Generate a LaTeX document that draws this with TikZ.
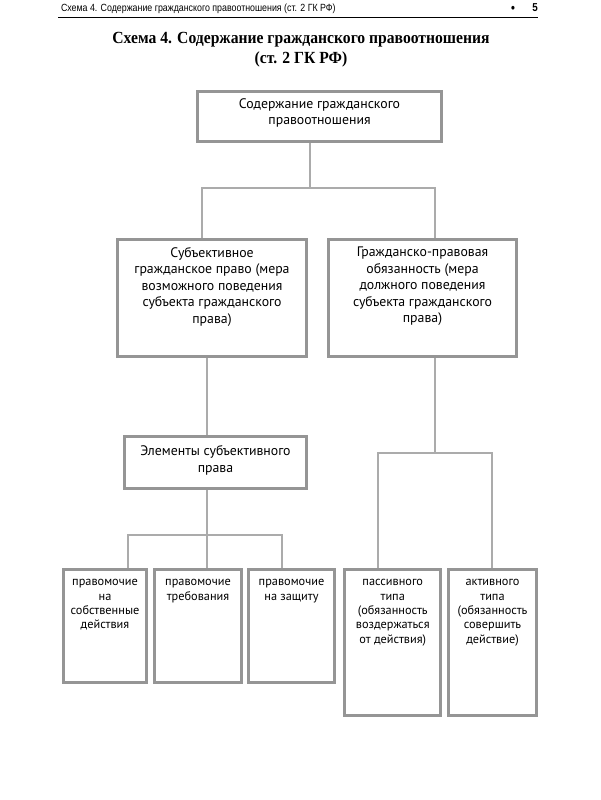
\documentclass[tikz,border=0pt]{standalone}
\usepackage{fontspec}
\setmainfont{PT Sans}
\newfontfamily\headfont[FakeStretch=0.85]{Liberation Sans}
\newfontfamily\titlefont[FakeStretch=0.92]{Liberation Serif}
\usetikzlibrary{backgrounds}

\definecolor{boxgray}{HTML}{959595}
\definecolor{linegray}{HTML}{ABABAB}

% текст в рамке: ширина, высота, отступ сверху, текст
\newcommand{\boxtext}[4]{\parbox[c][#2][t]{#1}{\centering\vspace*{#3}#4\par}}
\newcommand{\midsize}{\fontsize{13.8}{16.5}\selectfont}
\newcommand{\lowsize}{\fontsize{12.3}{14.3}\selectfont}

\begin{document}
\begin{tikzpicture}[
		x=1pt, y=-1pt,
		every node/.style={inner sep=0pt, outer sep=0pt},
		box/.style={draw=boxgray, line width=2.8pt},
		conn/.style={draw=linegray, line width=1.2pt},
		line join=miter
		]
		\useasboundingbox (0,0) rectangle (600,800);
		
		% ---- шапка ----
		\node[anchor=base west] (head) at (61,12)
			{\headfont\fontsize{10.4}{12}\selectfont Схема 4. Содержание гражданского правоотношения (ст. 2 ГК РФ)};
		\node[anchor=base] (bullet) at (513,12.5) {\headfont\bfseries\fontsize{13}{12}\selectfont •};
		\node[anchor=base] (page) at (535,12) {\headfont\bfseries\fontsize{11.5}{12}\selectfont 5};
		\draw[line width=0.8pt] (58,17.5) -- (538,17.5);
		
		% ---- заголовок ----
		\node[align=center, font={\titlefont\bfseries\fontsize{17}{20}\selectfont}] (title) at (301,49.5)
			{Схема 4. Содержание гражданского правоотношения\\(ст. 2 ГК РФ)};
		
		% ---- рамки ----
		\node[box] (root) at (319.5,116.5)
			{\boxtext{244pt}{50pt}{7pt}{\midsize Содержание гражданского\\правоотношения}};
		
		\node[box] (subj) at (212,298)
			{\boxtext{189pt}{117pt}{7.5pt}{\midsize Субъективное\\гражданское право (мера\\возможного поведения\\субъекта гражданского\\права)}};
		\node[box] (duty) at (422.5,298)
			{\boxtext{188pt}{117pt}{7.5pt}{\midsize Гражданско-правовая\\обязанность (мера\\должного поведения\\субъекта гражданского\\права)}};
		
		\node[box] (elem) at (215.5,462.5)
			{\boxtext{182pt}{52pt}{9pt}{\midsize Элементы субъективного\\права}};
		
		\node[box] (own) at (105,626)
			{\boxtext{83pt}{113pt}{10pt}{\lowsize правомочие\\на\\собственные\\действия}};
		\node[box] (req) at (198,626)
			{\boxtext{87pt}{113pt}{10pt}{\lowsize правомочие\\требования}};
		\node[box] (prot) at (291.5,626)
			{\boxtext{86pt}{113pt}{10pt}{\lowsize правомочие\\на защиту}};
		
		\node[box] (pass) at (392.75,642.5)
			{\boxtext{96pt}{146pt}{10pt}{\lowsize пассивного\\типа\\(обязанность\\воздержаться\\от действия)}};
		\node[box] (act) at (492.5,642.5)
			{\boxtext{88pt}{146pt}{10pt}{\lowsize активного\\типа\\(обязанность\\совершить\\действие)}};
		
		% ---- точки ветвления ----
		\coordinate (jTop) at (310,188);
		\coordinate (jL) at (202,188);
		\coordinate (jR) at (435,188);
		\coordinate (jE) at (207,535);
		\coordinate (jA) at (128,535);
		\coordinate (jB) at (282,535);
		\coordinate (jP) at (378,453);
		\coordinate (jQ) at (492,453);
		
		% ---- линии ----
		\begin{pgfonlayer}{background}
		\draw[conn] (root.south -| jTop) -- (jTop);
		\draw[conn] (subj.north -| jL) -- (jL) -- (jR) -- (duty.north -| jR);
		
		\draw[conn] (subj.south -| jE) -- (elem.north -| jE);
		\draw[conn] (elem.south -| jE) -- (req.north -| jE);
		\draw[conn] (own.north -| jA) -- (jA) -- (jB) -- (prot.north -| jB);
		
		\draw[conn] (duty.south -| jR) -- (jR |- jP);
		\draw[conn] (pass.north -| jP) -- (jP) -- (jQ) -- (act.north -| jQ);
		\end{pgfonlayer}
	\end{tikzpicture}
\end{document}
